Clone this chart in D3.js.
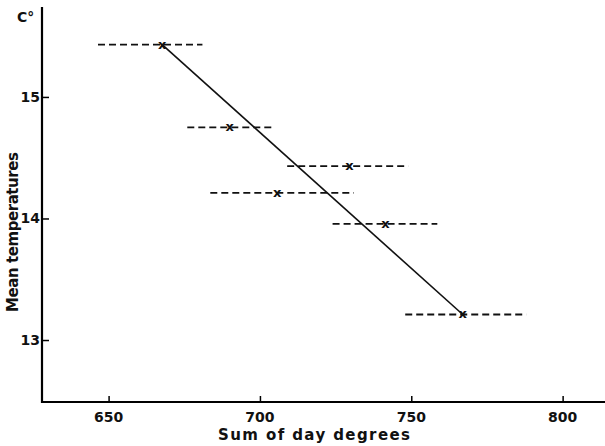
<!DOCTYPE html>
<html>
<head>
  <meta charset='utf-8'>
  <title>Mean temperatures vs sum of day degrees</title>
  <script src="https://cdnjs.cloudflare.com/ajax/libs/d3/7.8.5/d3.min.js"></script>
  <style>
    body { margin: 0; background: #fff; }
    text { font-family: "DejaVu Sans", sans-serif; fill: #111; }
  </style>
</head>
<body>
  <svg width="605" height="446" id="chart"></svg>
  <script>
    // points (x = sum of day degrees, y = mean temperature)
    const sumDays = [667.7, 690, 729.6, 705.7, 741.5, 767];
    const meanTemp = [15.43, 14.75, 14.43, 14.21, 13.955, 13.21];
    // horizontal dashed ranges for each point
    const rangeLow = [646.5, 676, 709, 683.6, 724, 748];
    const rangeHigh = [681, 704, 749, 731, 758.6, 788];
    // fitted line
    const lineX = [667.7, 767];
    const lineY = [15.43, 13.21];
    const xTicks = [650, 700, 750, 800];
    const yTicks = [13, 14, 15];

    const svg = d3.select('#chart');
    const x = d3.scaleLinear().domain([628, 814]).range([42, 605]);
    const y = d3.scaleLinear().domain([12.49, 15.74]).range([402, 7]);

    // axes
    svg.append('g')
      .attr('transform', 'translate(0,402)')
      .call(d3.axisTop(x).tickValues(xTicks).tickSize(6).tickFormat(''))
      .call(g => g.selectAll('.tick line').attr('stroke-width', 1.5))
      .call(g => g.select('.domain').attr('stroke-width', 2.2).attr('d', 'M42,0H605'));
    svg.append('g')
      .attr('transform', 'translate(42,0)')
      .call(d3.axisRight(y).tickValues(yTicks).tickSize(7).tickFormat(''))
      .call(g => g.selectAll('.tick line').attr('stroke-width', 1.5))
      .call(g => g.select('.domain').attr('stroke-width', 2.2).attr('d', 'M0,7V403'));

    svg.selectAll('.xlab').data(xTicks).join('text')
      .attr('x', d => x(d)).attr('y', 422)
      .attr('text-anchor', 'middle').attr('font-size', 14).attr('font-weight', 600)
      .text(d => d);
    svg.selectAll('.ylab').data(yTicks).join('text')
      .attr('x', 40).attr('y', d => y(d) + 5)
      .attr('text-anchor', 'end').attr('font-size', 14).attr('font-weight', 600)
      .text(d => d);

    svg.append('text').attr('x', 314).attr('y', 440)
      .attr('text-anchor', 'middle').attr('font-size', 15).attr('font-weight', 600)
      .attr('textLength', 192).attr('lengthAdjust', 'spacing')
      .text('Sum of day degrees');
    svg.append('text')
      .attr('transform', 'translate(18,232) rotate(-90)')
      .attr('text-anchor', 'middle').attr('font-size', 15).attr('font-weight', 600)
      .attr('textLength', 160).attr('lengthAdjust', 'spacing')
      .text('Mean temperatures');
    svg.append('text').attr('x', 17).attr('y', 22)
      .attr('font-size', 14).attr('font-weight', 600).text('C°');

    // dashed ranges
    svg.selectAll('.range').data(meanTemp).join('line')
      .attr('x1', (d, i) => x(rangeLow[i])).attr('x2', (d, i) => x(rangeHigh[i]))
      .attr('y1', d => y(d)).attr('y2', d => y(d))
      .attr('stroke', '#111').attr('stroke-width', 1.8)
      .attr('stroke-dasharray', '7,4');

    // fitted line
    svg.append('line')
      .attr('x1', x(lineX[0])).attr('y1', y(lineY[0]))
      .attr('x2', x(lineX[1])).attr('y2', y(lineY[1]))
      .attr('stroke', '#111').attr('stroke-width', 1.6);

    // x markers
    svg.selectAll('.pt').data(meanTemp).join('text')
      .attr('x', (d, i) => x(sumDays[i])).attr('y', d => y(d) + 4)
      .attr('text-anchor', 'middle').attr('font-size', 13).attr('font-weight', 600)
      .text('x');
  </script>
</body>
</html>
